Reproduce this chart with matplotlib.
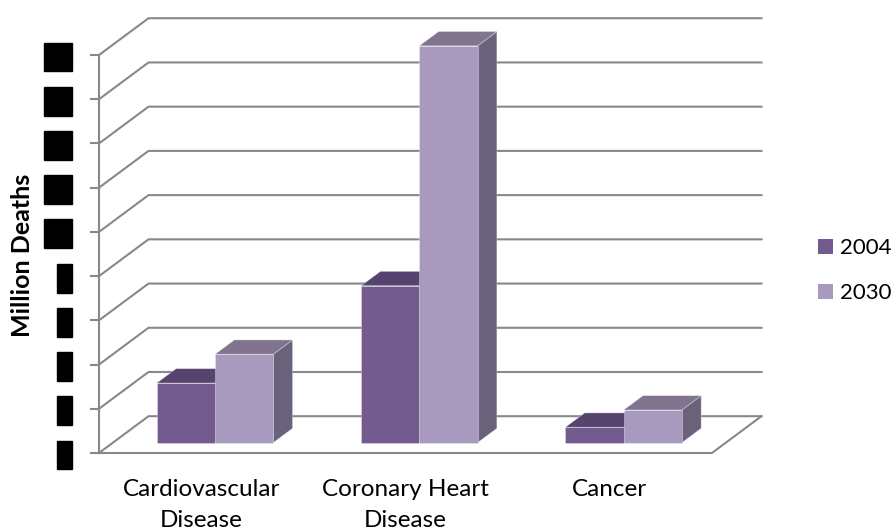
import matplotlib
matplotlib.use("Agg")
import matplotlib.pyplot as plt
from matplotlib.patches import Polygon, Patch
from matplotlib.path import Path

plt.rcParams["font.family"] = ["Lato", "DejaVu Sans"]

# -------------------------------
# Data (million deaths)
# -------------------------------
categories = ["Cardiovascular\nDisease", "Coronary Heart\nDisease", "Cancer"]
years = ["2004", "2030"]
deaths_2004 = [2.7, 7.1, 0.7]
deaths_2030 = [4.0, 17.95, 1.48]
y_ticks = [0, 2, 4, 6, 8, 10, 12, 14, 16, 18]

front_colors = ["#735A8F", "#A89ABE"]
top_colors = ["#56436E", "#80748F"]
side_colors = ["#4E3D64", "#6A627A"]
grid_color = "#888888"

# fake 3d: depth vector in data units (category units, value units)
DX, DY = 0.2423, 1.664
bar_w = 0.285
d_front, d_back = 0.28, 0.67


def proj(x, y, d):
    return (x + d * DX, y + d * DY)


def redact_box(x0, y0, width, height, mutation_size):
    # tall black box over the tick label (labels are blacked out in the source)
    px, py = 0.05 * mutation_size, 0.2 * mutation_size
    verts = [(x0 - px, y0 - py), (x0 + width + px, y0 - py),
             (x0 + width + px, y0 + height + py), (x0 - px, y0 + height + py),
             (x0 - px, y0 - py)]
    codes = [Path.MOVETO, Path.LINETO, Path.LINETO, Path.LINETO, Path.CLOSEPOLY]
    return Path(verts, codes)


W, H = 894, 529
fig = plt.figure(figsize=(W / 100, H / 100), dpi=100)
# axes placed so that the front plane starts at the left spine
ax = fig.add_axes([99 / W, (H - 453) / H, (762 - 99) / W, (453 - 17) / H])
ax.set_xlim(-0.5, 2.745)
ax.set_ylim(0, 19.72)

# -------------------------------
# Walls and floor
# -------------------------------
n = len(categories)
for v in y_ticks:
    xs, ys = zip(proj(-0.5, v, 0), proj(-0.5, v, 1), proj(n - 0.5, v, 1))
    ax.plot(xs, ys, color=grid_color, lw=1.5, clip_on=False, zorder=1)

xs, ys = zip(proj(-0.5, 0, 0), proj(n - 0.5, 0, 0), proj(n - 0.5, 0, 1))
ax.plot(xs, ys, color=grid_color, lw=1.5, clip_on=False, zorder=1)

# -------------------------------
# Bars
# -------------------------------
series = [deaths_2004, deaths_2030]
for i in range(n):
    for j, vals in enumerate(series):
        v = vals[i]
        x0 = i - bar_w + j * bar_w
        x1 = x0 + bar_w
        side = [proj(x1, 0, d_front), proj(x1, 0, d_back), proj(x1, v, d_back), proj(x1, v, d_front)]
        top = [proj(x0, v, d_front), proj(x1, v, d_front), proj(x1, v, d_back), proj(x0, v, d_back)]
        front = [proj(x0, 0, d_front), proj(x1, 0, d_front), proj(x1, v, d_front), proj(x0, v, d_front)]
        for poly, col in [(side, side_colors[j]), (top, top_colors[j]), (front, front_colors[j])]:
            ax.add_patch(Polygon(poly, closed=True, facecolor=col,
                                 edgecolor=(1, 1, 1, 0.35), lw=0.6, zorder=2 + j))

# -------------------------------
# Axes styling
# -------------------------------
for s in ["top", "right", "bottom"]:
    ax.spines[s].set_visible(False)
ax.spines["left"].set_bounds(0, 18)
ax.spines["left"].set_color(grid_color)
ax.spines["left"].set_linewidth(1.5)

ax.set_yticks(y_ticks)
ax.set_yticklabels([str(t) for t in y_ticks])
ax.tick_params(axis="y", length=6.5, width=1.5, color=grid_color, pad=13.5,
               labelsize=16, labelcolor="black")
for lab in ax.get_yticklabels():
    lab.set_bbox(dict(boxstyle=redact_box, fc="black", ec="black"))

ax.set_xticks(range(n))
ax.set_xticklabels(categories, fontsize=17.5, linespacing=1.55)
ax.tick_params(axis="x", length=0, pad=19)

fig.text(23 / W, 1 - 255 / H, "Million Deaths", rotation=90, fontsize=18,
         fontweight="bold", ha="center", va="center")

handles = [Patch(facecolor=front_colors[k], edgecolor="none") for k in range(2)]
fig.legend(handles, years, loc="upper left", bbox_to_anchor=(818 / W, 1 - 238 / H),
           frameon=False, fontsize=16, handlelength=0.68, handleheight=0.68,
           handletextpad=0.3, labelspacing=1.14, borderaxespad=0, borderpad=0)

fig.savefig("out.png", dpi=100)
